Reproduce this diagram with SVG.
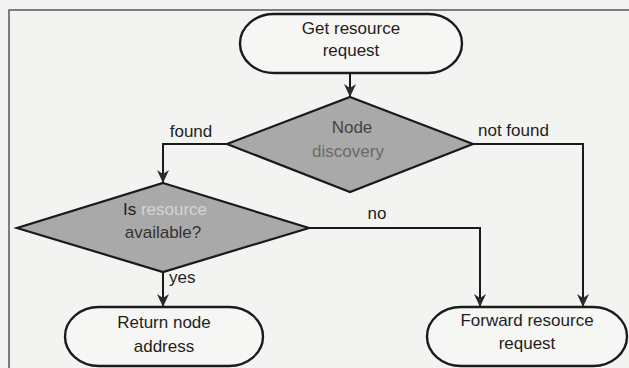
<svg xmlns="http://www.w3.org/2000/svg" width="629" height="368" viewBox="0 0 629 368">
  <style>
    text { font-family: "Liberation Sans", Arial, sans-serif; font-size: 17px; fill: #1e1e1e; }
    .mid { text-anchor: middle; }
    .terminal { fill: #f6f6f4; stroke: #1a1a1a; stroke-width: 2.4; }
    .decision { fill: #a9a9a9; stroke: #1a1a1a; stroke-width: 2.2; }
    .flow { fill: none; stroke: #1a1a1a; stroke-width: 2; marker-end: url(#arrow); }
    .line { fill: none; stroke: #1a1a1a; stroke-width: 2; }
  </style>
  <defs>
    <marker id="arrow" markerUnits="userSpaceOnUse" markerWidth="14" markerHeight="14" viewBox="0 0 14 14" refX="13" refY="7" orient="auto">
      <path d="M0,1 L13,7 L0,13 L4,7 z" fill="#2a2a2a"/>
    </marker>
  </defs>

  <!-- page -->
  <rect x="0" y="0" width="629" height="368" fill="#f3f3f1"/>
  <path d="M9,368 V10 H629" fill="none" stroke="#555" stroke-width="1.5"/>

  <!-- connectors -->
  <g id="connectors">
    <path class="flow" d="M350,73 V97"/>
    <path class="flow" d="M227,144 H163 V183"/>
    <path class="flow" d="M473,144 H583 V307"/>
    <path class="flow" d="M309,228 H480 V307"/>
    <path class="flow" d="M163,272 V307"/>
    <text x="191" y="137" class="mid">found</text>
    <text x="478" y="136">not found</text>
    <text x="377" y="219" class="mid">no</text>
    <text x="169" y="283">yes</text>
  </g>

  <g id="get-request">
    <rect class="terminal" x="240" y="14" width="222" height="59" rx="34" ry="29.5"/>
    <text x="351" y="34" class="mid">Get resource</text>
    <text x="351" y="56" class="mid">request</text>
  </g>

  <g id="node-discovery">
    <polygon class="decision" points="350,97 473,144 350,192 227,144"/>
    <text x="352" y="133" class="mid" fill="#444" style="fill:#444">Node</text>
    <text x="348" y="157" class="mid" style="fill:#6a6a6a">discovery</text>
  </g>

  <g id="resource-available">
    <polygon class="decision" points="163,183 309,228 163,272 17,228"/>
    <text x="165" y="215" class="mid"><tspan style="fill:#222">Is </tspan><tspan style="fill:#d4d4d4">resource</tspan></text>
    <text x="163" y="238" class="mid" style="fill:#333">available?</text>
  </g>

  <g id="return-address">
    <rect class="terminal" x="65" y="307" width="198" height="59" rx="34" ry="29.5"/>
    <text x="164" y="328" class="mid">Return node</text>
    <text x="164" y="352" class="mid">address</text>
  </g>

  <g id="forward-request">
    <rect class="terminal" x="427" y="307" width="200" height="59" rx="34" ry="29.5"/>
    <text x="527" y="326" class="mid">Forward resource</text>
    <text x="527" y="349" class="mid">request</text>
  </g>
</svg>
